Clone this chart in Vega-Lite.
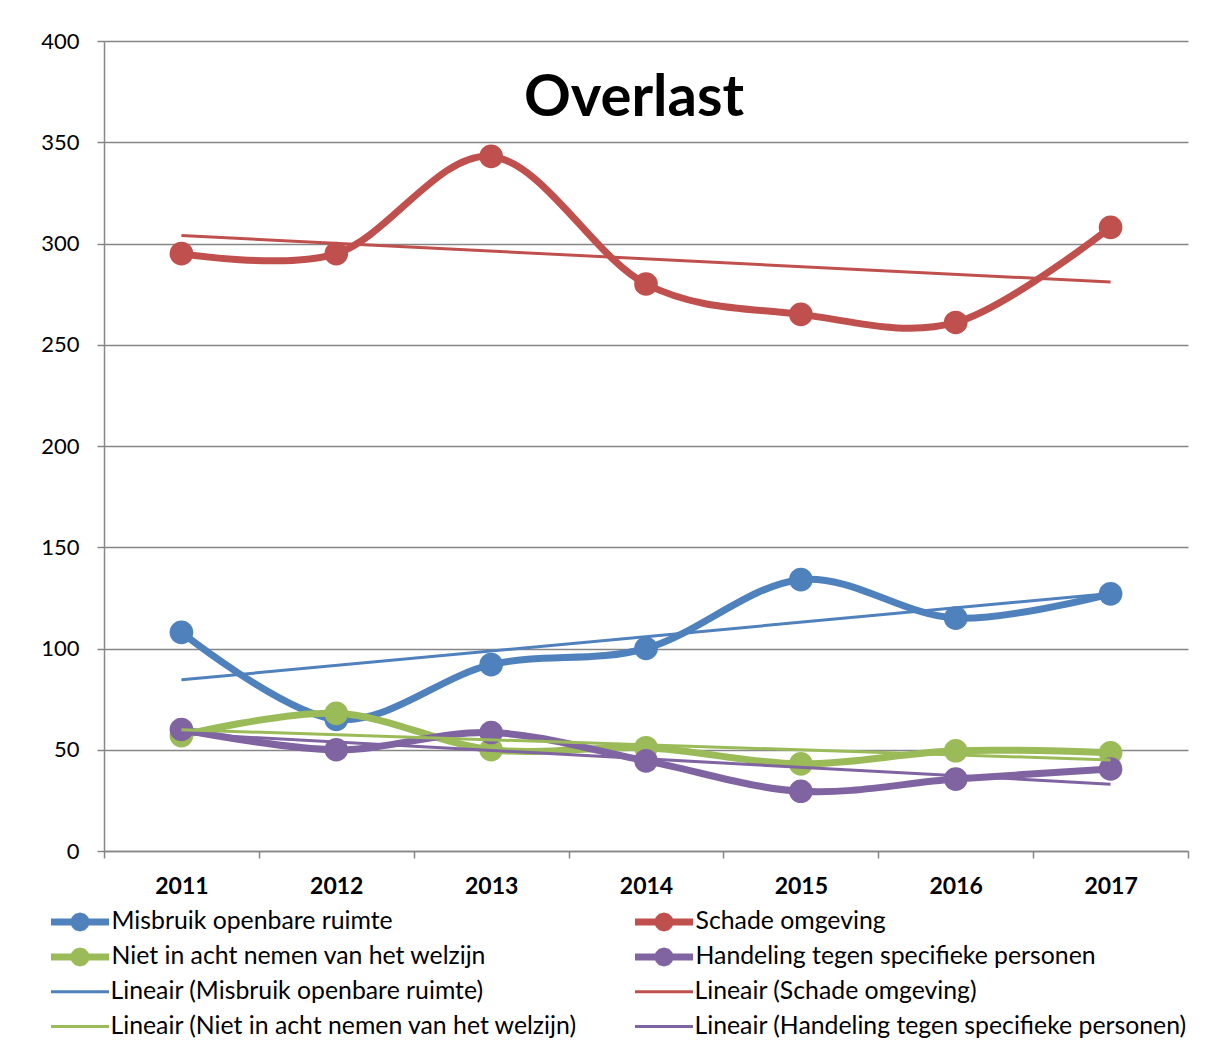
{
  "$schema": "https://vega.github.io/schema/vega-lite/v6.json",
  "autosize": {"type": "none"},
  "width": 1084,
  "height": 810,
  "padding": {"left": 104, "top": 41, "right": 32, "bottom": 201},
  "background": "white",
  "title": {
    "text": "Overlast",
    "font": "Lato",
    "fontSize": 58,
    "fontWeight": "bold",
    "color": "black",
    "anchor": "middle",
    "baseline": "alphabetic",
    "dx": -12,
    "dy": 148
  },
  "data": {
    "values": [
      {"year": 2011, "value": 108, "series": "Misbruik openbare ruimte", "trend": "Lineair (Misbruik openbare ruimte)"},
      {"year": 2012, "value": 65, "series": "Misbruik openbare ruimte", "trend": "Lineair (Misbruik openbare ruimte)"},
      {"year": 2013, "value": 92, "series": "Misbruik openbare ruimte", "trend": "Lineair (Misbruik openbare ruimte)"},
      {"year": 2014, "value": 100, "series": "Misbruik openbare ruimte", "trend": "Lineair (Misbruik openbare ruimte)"},
      {"year": 2015, "value": 134, "series": "Misbruik openbare ruimte", "trend": "Lineair (Misbruik openbare ruimte)"},
      {"year": 2016, "value": 115, "series": "Misbruik openbare ruimte", "trend": "Lineair (Misbruik openbare ruimte)"},
      {"year": 2017, "value": 127, "series": "Misbruik openbare ruimte", "trend": "Lineair (Misbruik openbare ruimte)"},
      {"year": 2011, "value": 295, "series": "Schade omgeving", "trend": "Lineair (Schade omgeving)"},
      {"year": 2012, "value": 295, "series": "Schade omgeving", "trend": "Lineair (Schade omgeving)"},
      {"year": 2013, "value": 343, "series": "Schade omgeving", "trend": "Lineair (Schade omgeving)"},
      {"year": 2014, "value": 280, "series": "Schade omgeving", "trend": "Lineair (Schade omgeving)"},
      {"year": 2015, "value": 265, "series": "Schade omgeving", "trend": "Lineair (Schade omgeving)"},
      {"year": 2016, "value": 261, "series": "Schade omgeving", "trend": "Lineair (Schade omgeving)"},
      {"year": 2017, "value": 308, "series": "Schade omgeving", "trend": "Lineair (Schade omgeving)"},
      {"year": 2011, "value": 57, "series": "Niet in acht nemen van het welzijn", "trend": "Lineair (Niet in acht nemen van het welzijn)"},
      {"year": 2012, "value": 68, "series": "Niet in acht nemen van het welzijn", "trend": "Lineair (Niet in acht nemen van het welzijn)"},
      {"year": 2013, "value": 50, "series": "Niet in acht nemen van het welzijn", "trend": "Lineair (Niet in acht nemen van het welzijn)"},
      {"year": 2014, "value": 51, "series": "Niet in acht nemen van het welzijn", "trend": "Lineair (Niet in acht nemen van het welzijn)"},
      {"year": 2015, "value": 43, "series": "Niet in acht nemen van het welzijn", "trend": "Lineair (Niet in acht nemen van het welzijn)"},
      {"year": 2016, "value": 49.5, "series": "Niet in acht nemen van het welzijn", "trend": "Lineair (Niet in acht nemen van het welzijn)"},
      {"year": 2017, "value": 48.5, "series": "Niet in acht nemen van het welzijn", "trend": "Lineair (Niet in acht nemen van het welzijn)"},
      {"year": 2011, "value": 60, "series": "Handeling tegen specifieke personen", "trend": "Lineair (Handeling tegen specifieke personen)"},
      {"year": 2012, "value": 50, "series": "Handeling tegen specifieke personen", "trend": "Lineair (Handeling tegen specifieke personen)"},
      {"year": 2013, "value": 58.5, "series": "Handeling tegen specifieke personen", "trend": "Lineair (Handeling tegen specifieke personen)"},
      {"year": 2014, "value": 44.5, "series": "Handeling tegen specifieke personen", "trend": "Lineair (Handeling tegen specifieke personen)"},
      {"year": 2015, "value": 29.5, "series": "Handeling tegen specifieke personen", "trend": "Lineair (Handeling tegen specifieke personen)"},
      {"year": 2016, "value": 35.5, "series": "Handeling tegen specifieke personen", "trend": "Lineair (Handeling tegen specifieke personen)"},
      {"year": 2017, "value": 40.5, "series": "Handeling tegen specifieke personen", "trend": "Lineair (Handeling tegen specifieke personen)"}
    ]
  },
  "encoding": {
    "x": {
      "field": "year",
      "type": "ordinal",
      "scale": {"type": "band", "domain": [2011, 2012, 2013, 2014, 2015, 2016, 2017], "paddingInner": 0, "paddingOuter": 0},
      "axis": {
        "title": null,
        "tickBand": "extent",
        "labelAngle": 0,
        "labelFont": "Lato",
        "labelFontSize": 23,
        "labelFontWeight": "bold",
        "labelColor": "black",
        "labelPadding": 17,
        "domainColor": "#868686",
        "domainWidth": 1.5,
        "tickColor": "#868686",
        "tickWidth": 1.5,
        "tickSize": 7,
        "grid": false
      }
    },
    "y": {
      "field": "value",
      "type": "quantitative",
      "scale": {"domain": [0, 400], "nice": false, "zero": true},
      "axis": {
        "title": null,
        "values": [0, 50, 100, 150, 200, 250, 300, 350, 400],
        "labelFont": "Lato",
        "labelFontSize": 22,
        "labelColor": "black",
        "labelPadding": 18,
        "domainColor": "#868686",
        "domainWidth": 1.5,
        "tickColor": "#868686",
        "tickWidth": 1.5,
        "tickSize": 7,
        "grid": true,
        "gridColor": "#868686",
        "gridWidth": 1.5
      }
    }
  },
  "layer": [
    {
      "mark": {"type": "line", "interpolate": "cardinal", "strokeWidth": 7, "strokeCap": "round", "strokeJoin": "round"},
      "encoding": {
        "color": {
          "field": "series",
          "type": "nominal",
          "sort": null,
          "scale": {
            "domain": [
              "Misbruik openbare ruimte",
              "Niet in acht nemen van het welzijn",
              "Schade omgeving",
              "Handeling tegen specifieke personen"
            ],
            "range": ["#4F81BD", "#9BBB59", "#C0504D", "#8064A2"]
          },
          "legend": {
            "title": null,
            "orient": "none",
            "legendX": -53,
            "legendY": 867,
            "direction": "vertical",
            "columns": 2,
            "columnPadding": 148,
            "rowPadding": 7,
            "clipHeight": 28,
            "labelFont": "Lato",
            "labelFontSize": 24.8,
            "labelColor": "black",
            "labelLimit": 700,
            "labelOffset": 14,
            "symbolOffset": 11.5,
            "symbolType": "M-2.071,0L2.071,0M0.4286,0L0.3712,0.2143L0.2143,0.3712L0,0.4286L-0.2143,0.3712L-0.3712,0.2143L-0.4286,0L-0.3712,-0.2143L-0.2143,-0.3712L0,-0.4286L0.2143,-0.3712L0.3712,-0.2143ZM0.1786,0L0,0.1786L-0.1786,0L0,-0.1786Z",
            "symbolSize": 784,
            "symbolStrokeWidth": 7,
            "symbolOpacity": 1
          }
        }
      }
    },
    {
      "mark": {"type": "point", "filled": true, "size": 560, "opacity": 1},
      "encoding": {
        "color": {"field": "series", "type": "nominal", "sort": null}
      }
    },
    {
      "transform": [
        {"regression": "value", "on": "year", "groupby": ["series", "trend"], "method": "linear"}
      ],
      "mark": {"type": "line", "strokeWidth": 3},
      "encoding": {
        "stroke": {
          "field": "trend",
          "type": "nominal",
          "sort": null,
          "scale": {
            "domain": [
              "Lineair (Misbruik openbare ruimte)",
              "Lineair (Niet in acht nemen van het welzijn)",
              "Lineair (Schade omgeving)",
              "Lineair (Handeling tegen specifieke personen)"
            ],
            "range": ["#4F81BD", "#9BBB59", "#C0504D", "#8064A2"]
          },
          "legend": {
            "title": null,
            "orient": "none",
            "legendX": -53,
            "legendY": 935,
            "direction": "vertical",
            "columns": 2,
            "columnPadding": 51,
            "rowPadding": 7,
            "labelFont": "Lato",
            "labelFontSize": 24.8,
            "labelColor": "black",
            "labelLimit": 700,
            "labelOffset": 15,
            "symbolOffset": 13.5,
            "symbolType": "M-2.071,0L2.071,0",
            "symbolSize": 784,
            "symbolStrokeWidth": 3
          }
        }
      }
    }
  ],
  "config": {
    "font": "Lato",
    "view": {"stroke": null}
  }
}
